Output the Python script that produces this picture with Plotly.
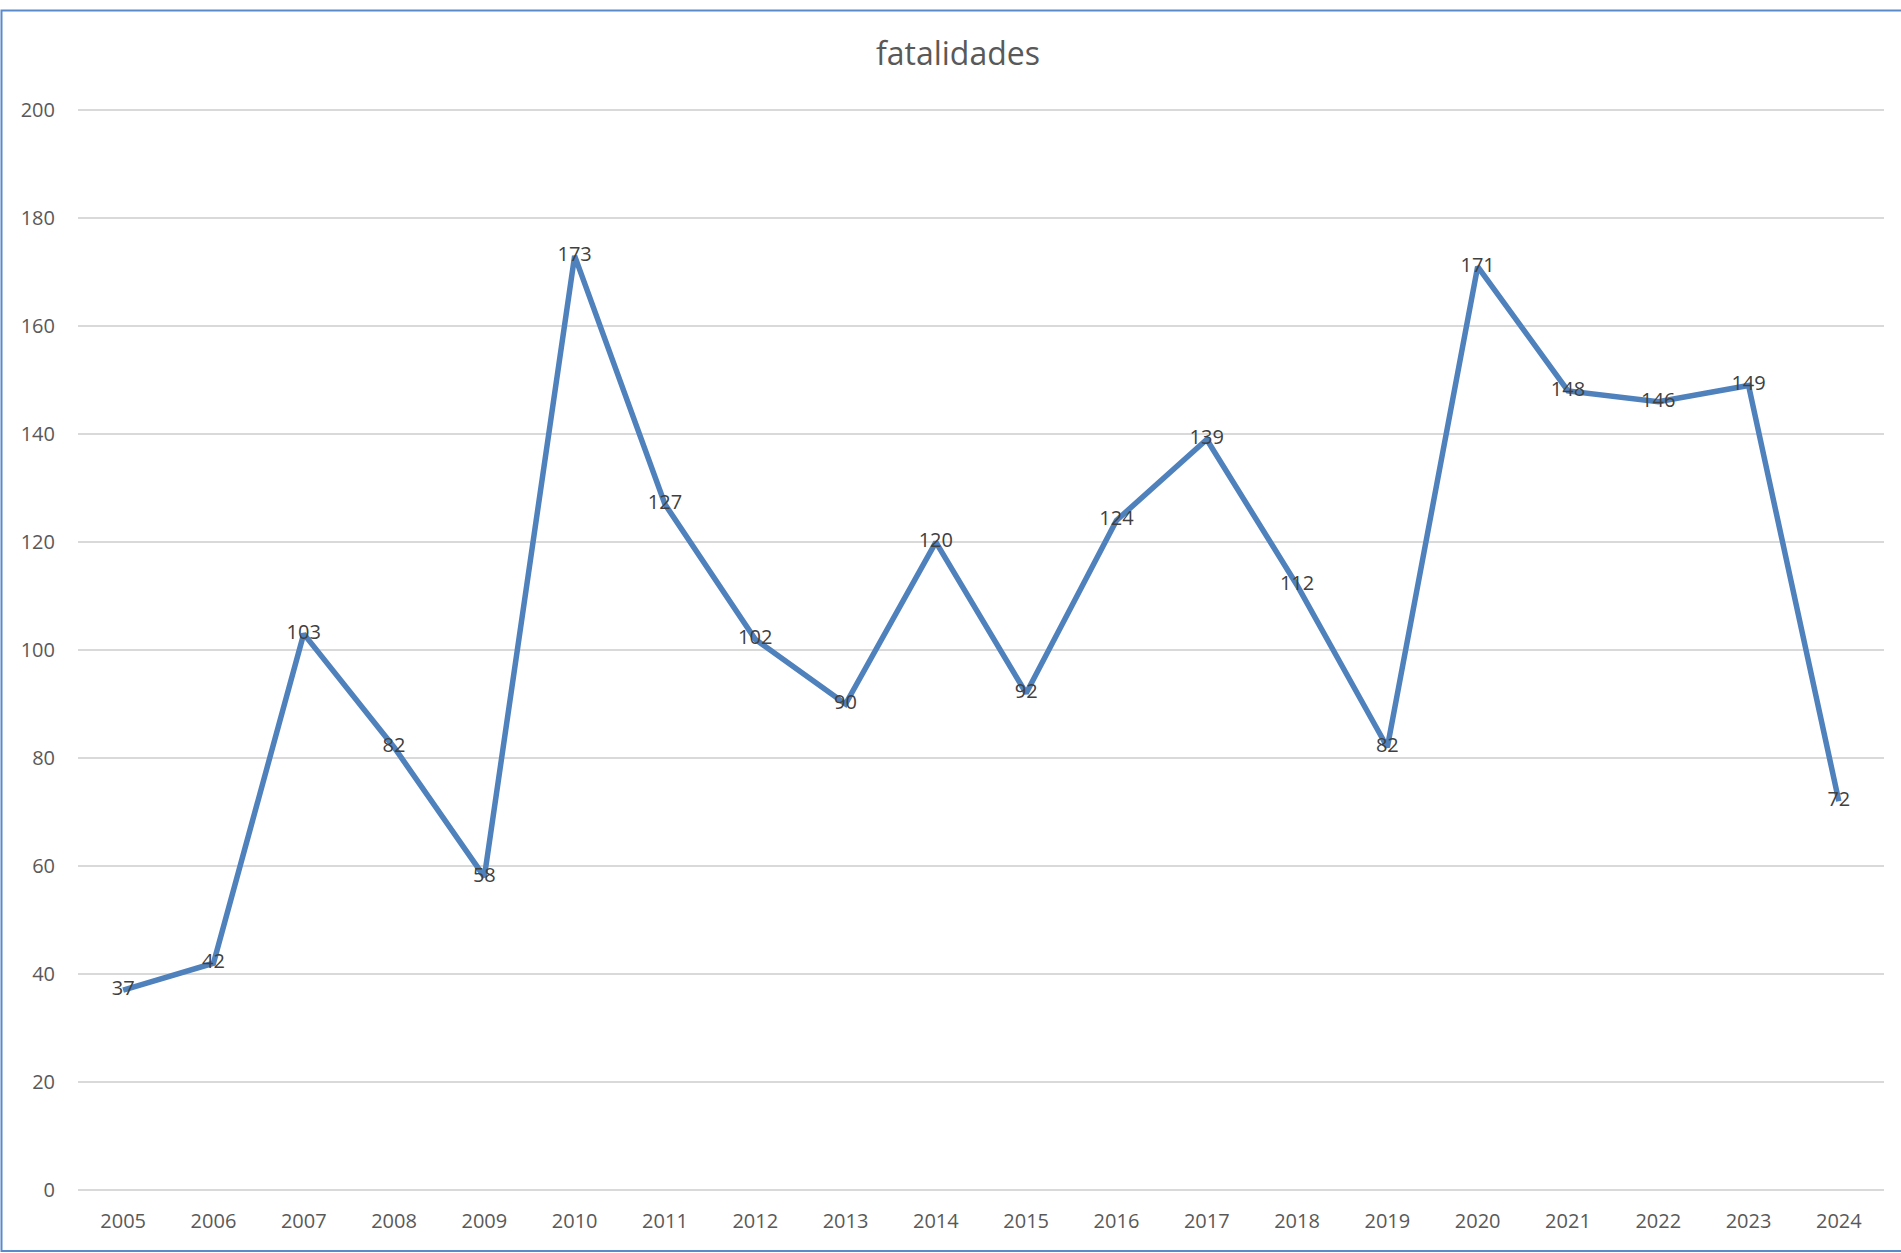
import plotly.graph_objects as go

years = ["2005", "2006", "2007", "2008", "2009", "2010", "2011", "2012", "2013", "2014",
         "2015", "2016", "2017", "2018", "2019", "2020", "2021", "2022", "2023", "2024"]
fatalidades = [37, 42, 103, 82, 58, 173, 127, 102, 90, 120,
               92, 124, 139, 112, 82, 171, 148, 146, 149, 72]
y_ticks = [0, 20, 40, 60, 80, 100, 120, 140, 160, 180, 200]

W, H = 1901, 1253
L, R, T, B = 78, 1884, 109, 1190.5

def px_x(p):
    return (p - L) / (R - L)

def px_y(p):
    return (B - p) / (B - T)

fig = go.Figure()
fig.add_trace(go.Scatter(
    x=years, y=fatalidades, mode="lines+text",
    text=[str(v) for v in fatalidades], textposition="middle center",
    textfont=dict(family="Open Sans", size=20, color="#404040"),
    line=dict(color="#4F81BD", width=5.5),
    cliponaxis=False, hoverinfo="x+y",
))

fig.update_layout(
    width=W, height=H,
    margin=dict(l=L, r=W - R, t=T, b=H - B, pad=0),
    paper_bgcolor="white", plot_bgcolor="white",
    showlegend=False,
    title=dict(text="fatalidades", x=958 / W, xref="container", xanchor="center",
               y=1 - 54 / H, yref="container", yanchor="middle",
               font=dict(family="Open Sans", size=32, color="#595959")),
    xaxis=dict(type="category", range=[-0.5, len(years) - 0.5], showgrid=False,
               showline=False, zeroline=False, ticks="",
               tickfont=dict(family="Open Sans", size=20, color="#595959"),
               ticklabelstandoff=17),
    yaxis=dict(range=[0, 200.2], tickvals=y_ticks, showgrid=True, gridcolor="#D9D9D9",
               gridwidth=1.5, zeroline=True, zerolinecolor="#D9D9D9", zerolinewidth=1.5,
               showline=False, ticks="",
               tickfont=dict(family="Open Sans", size=20, color="#595959"),
               ticklabelstandoff=22),
    shapes=[dict(type="rect", xref="paper", yref="paper",
                 x0=px_x(1.5), x1=px_x(1910), y0=px_y(1251.5), y1=px_y(10.5),
                 line=dict(color="#5B8ACB", width=2), layer="above")],
)

fig.write_html("out.html", config={"displayModeBar": False},
               post_script="document.body.style.margin='0';document.body.style.overflow='hidden';")
